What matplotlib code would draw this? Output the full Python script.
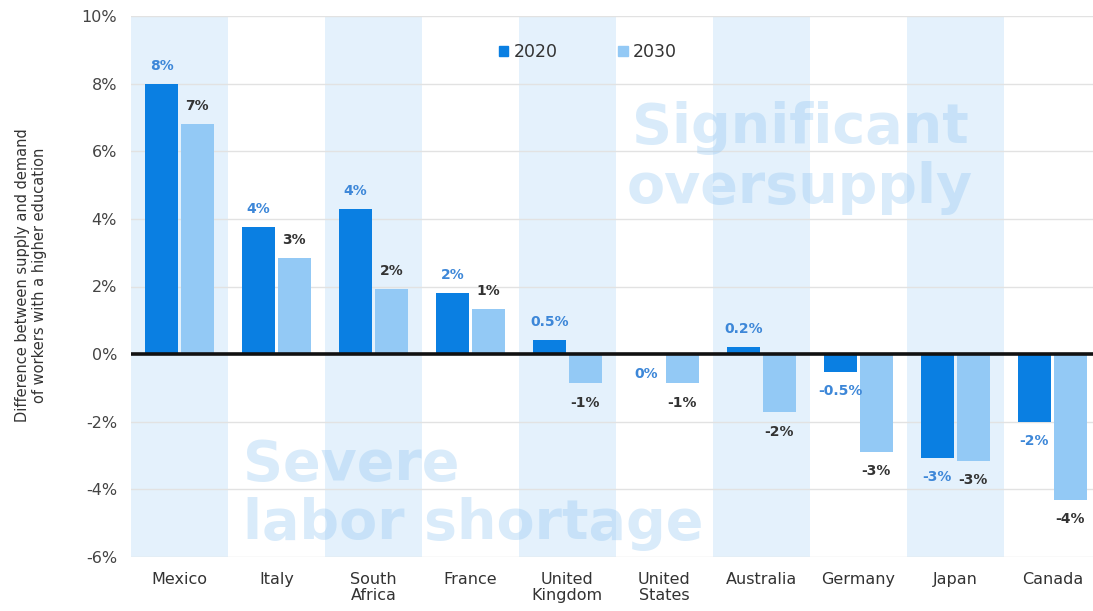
import matplotlib
matplotlib.use('Agg')
import matplotlib.pyplot as plt
import matplotlib.patches as mpatches
import numpy as np

plt.rcParams['font.family'] = ['DejaVu Sans']

# Data
countries = ['Mexico', 'Italy', 'South\nAfrica', 'France', 'United\nKingdom',
             'United\nStates', 'Australia', 'Germany', 'Japan', 'Canada']
gap_2020 = [8.0, 3.75, 4.28, 1.8, 0.42, 0.0, 0.2, -0.52, -3.06, -2.0]
gap_2030 = [6.8, 2.85, 1.92, 1.32, -0.86, -0.86, -1.72, -2.88, -3.16, -4.3]
labels_2020 = ['8%', '4%', '4%', '2%', '0.5%', '0%', '0.2%', '-0.5%', '-3%', '-2%']
labels_2030 = ['7%', '3%', '2%', '1%', '-1%', '-1%', '-2%', '-3%', '-3%', '-4%']
yticks = [-6, -4, -2, 0, 2, 4, 6, 8, 10]

c2020 = '#0a7fe2'
c2030 = '#93c9f5'
band = '#e4f1fc'

fig = plt.figure(figsize=(10.93, 6.11), dpi=100)
ax = fig.add_axes([131 / 1093, 1 - 557 / 611, (1093 - 131) / 1093, 541 / 611])

x = np.arange(len(countries))
w = 0.34
off = 0.185

# alternating column shading
for i in x:
    if i % 2 == 0:
        ax.axvspan(i - 0.5, i + 0.5, color=band, lw=0, zorder=0)

for t in yticks:
    if t != 0:
        ax.axhline(t, color='#e2e2e2', lw=1, zorder=0.5)

# big background captions
ax.text(6.40, 5.8, 'Significant\noversupply', weight='bold',
        fontsize=40, color='#8cc3f1', alpha=0.33, ha='center', va='center',
        multialignment='center', linespacing=1.12, zorder=1)
ax.text(0.655, -4.15, 'Severe\nlabor shortage', weight='bold',
        fontsize=40, color='#8cc3f1', alpha=0.33, ha='left', va='center',
        multialignment='left', linespacing=1.12, zorder=1)

b1 = ax.bar(x - off, gap_2020, w, color=c2020, zorder=2)
b2 = ax.bar(x + off, gap_2030, w, color=c2030, zorder=2)

ax.axhline(0, color='#111111', lw=2.6, zorder=3)

# value labels
for xi, v, lab in zip(x - off, gap_2020, labels_2020):
    dy = 13 if v > 0 else -14
    ax.annotate(lab, (xi, v), xytext=(0, dy), textcoords='offset points',
                ha='center', va='center', fontsize=10, weight='bold',
                color='#3d87d8', zorder=4)
for xi, v, lab in zip(x + off, gap_2030, labels_2030):
    dy = 13 if v > 0 else -14
    ax.annotate(lab, (xi, v), xytext=(0, dy), textcoords='offset points',
                ha='center', va='center', fontsize=10, weight='bold',
                color='#333333', zorder=4)

ax.set_xlim(-0.5, 9.42)
ax.set_ylim(-6, 10)
ax.set_yticks(yticks)
ax.set_yticklabels([f'{t}%' for t in yticks], fontsize=11.5, color='#444444')
ax.set_xticks(x)
ax.set_xticklabels(countries, fontsize=11.5, color='#333333', linespacing=1.1)
ax.tick_params(axis='both', length=0)
ax.tick_params(axis='y', pad=10)
ax.tick_params(axis='x', pad=11)
for s in ax.spines.values():
    s.set_visible(False)

fig.text(31 / 1093, 1 - 275 / 611,
         'Difference between supply and demand\nof workers with a higher education',
         rotation=90, ha='center', va='center', multialignment='center',
         fontsize=10.5, color='#333333')

handles = [mpatches.Patch(color=c2020, label='2020'),
           mpatches.Patch(color=c2030, label='2030')]
ax.legend(handles=handles, loc='center', bbox_to_anchor=(0.475, 0.933), ncol=2,
          frameon=False, fontsize=12.5, handlelength=0.55, handleheight=0.55,
          handletextpad=0.3, columnspacing=3.5, labelcolor='#333333')

fig.savefig('out.png', dpi=100)
